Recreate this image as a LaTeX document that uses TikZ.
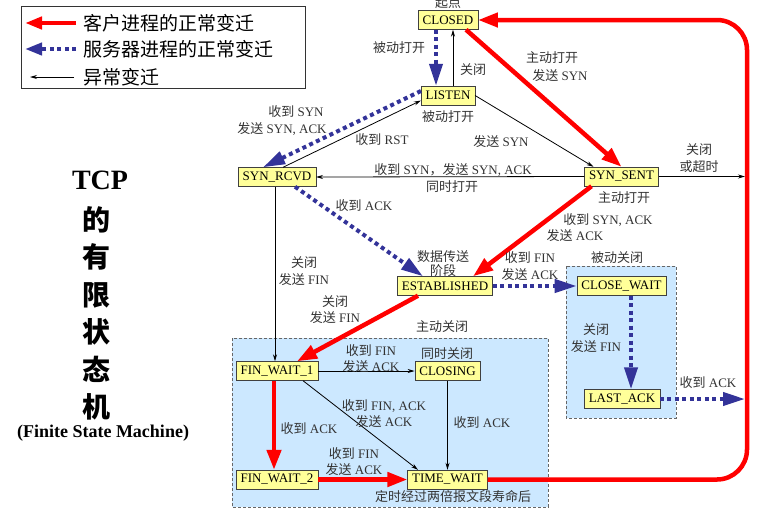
\documentclass[tikz,border=0pt]{standalone}
\usepackage{fontspec}
\setmainfont{Liberation Serif}
\newfontfamily\cjk{Noto Sans CJK SC}
\newcommand{\cn}[1]{{\cjk #1}}
\usetikzlibrary{arrows.meta}
\definecolor{srvblue}{RGB}{51,51,153}
\definecolor{statefill}{RGB}{255,255,153}
\definecolor{zonefill}{RGB}{204,232,255}
\tikzset{
  state/.style={draw=black!75, fill=statefill, font=\fontsize{13}{15}\selectfont, inner xsep=4.5pt, inner ysep=0pt, minimum height=19pt},
  lbl/.style={font=\fontsize{13}{16.5}\selectfont, text=black!80, align=center, inner sep=0pt},
  legend/.style={font=\cjk\fontsize{19}{21}\selectfont, anchor=west, inner sep=0pt},
  cli/.style={red, line width=4.5pt, -{Triangle[length=20pt,width=14pt]}},
  srv/.style={srvblue, line width=4pt, dash pattern=on 4pt off 3.5pt, -{Triangle[length=22pt,width=13pt]}},
  abn/.style={black, line width=0.8pt, -{Stealth[length=7pt,width=4pt]}},
  zone/.style={fill=zonefill, draw=black!60, dash pattern=on 3pt off 2pt, line width=0.7pt}
}

\begin{document}
\begin{tikzpicture}[x=1pt, y=-1pt]
    \useasboundingbox (0,0) rectangle (767,512);
    % legend
    \draw[black!80, line width=0.8pt] (21,6) rectangle (305,88);
    \node[legend] (lgcli) at (83,23) {客户进程的正常变迁};
    \node[legend] (lgsrv) at (83,49) {服务器进程的正常变迁};
    \node[legend] (lgabn) at (83,77) {异常变迁};
    \draw[cli, -{Triangle[length=17pt,width=12pt]}] ([xshift=-7pt]lgcli.west) -- ++(-51,0);
    \draw[srv, -{Triangle[length=17pt,width=12pt]}] ([xshift=-7pt]lgsrv.west) -- ++(-51,0);
    \draw[abn] ([xshift=-9pt]lgabn.west) -- ++(-44,0);

    % title
    \node[font=\bfseries\fontsize{28}{30}\selectfont] (tcp) at (100,180) {TCP};
    \node[font=\cjk\bfseries\fontsize{28}{37.5}\selectfont, align=center] (fsmzh) at (96,313.5) {的\\有\\限\\状\\态\\机};
    \node[font=\bfseries\fontsize{18}{20}\selectfont] (fsmen) at (103,433) {(Finite State Machine)};

    % closing zones
    \draw[zone] (232,338) rectangle (548,507);
    \draw[zone] (566,266) rectangle (676,418);

    % states
    \node[state] (closed) at (448,20) {CLOSED};
    \node[state] (listen) at (448,95.5) {LISTEN};
    \node[state] (synsent) at (621.5,176.5) {SYN\_SENT};
    \node[state] (synrcvd) at (277,177) {SYN\_RCVD};
    \node[state] (estab) at (445,286) {ESTABLISHED};
    \node[state] (closewait) at (621.5,286) {CLOSE\_WAIT};
    \node[state] (lastack) at (622,399) {LAST\_ACK};
    \node[state] (finwait1) at (277,371) {FIN\_WAIT\_1};
    \node[state] (closing) at (447.5,371) {CLOSING};
    \node[state] (finwait2) at (277,479.5) {FIN\_WAIT\_2};
    \node[state] (timewait) at (447.5,479.5) {TIME\_WAIT};
    \coordinate (timeout) at (745,176.5);
    \coordinate (ackdone) at (745,399);
    \coordinate (cbot) at (747,479.5);
    \coordinate (ctop) at (747,20);

    % transitions
    \draw[srv] ([xshift=-12pt]closed.south) -- ([xshift=-12pt]listen.north);
    \draw[abn] ([xshift=5pt]listen.north) -- ([xshift=5pt]closed.south);
    \draw[cli] ([xshift=18pt]closed.south) -- (synsent.north);
    \draw[abn] (listen.east) -- ([xshift=-28pt]synsent.north);
    \draw[srv] ([yshift=4.5pt]listen.west) -- ([xshift=-14pt]synrcvd.north);
    \draw[abn] ([xshift=6pt]synrcvd.north) -- ([yshift=-5pt]listen.west);
    \draw[abn] (synsent.west) -- (synrcvd.east);
    \draw[abn] (synsent.east) -- (timeout);
    \draw[cli] ([xshift=-30pt]synsent.south) -- ([xshift=28pt]estab.north);
    \draw[srv] ([xshift=18pt]synrcvd.south) -- ([xshift=-22pt]estab.north);
    \draw[abn] ([xshift=-2pt]synrcvd.south) -- ([xshift=-2pt]finwait1.north);
    \draw[cli] ([xshift=-27pt]estab.south) -- ([xshift=20pt]finwait1.north);
    \draw[srv] (estab.east) -- (closewait.west);
    \draw[srv] ([xshift=9.5pt]closewait.south) -- ([xshift=9pt]lastack.north);
    \draw[srv] (lastack.east) -- (ackdone);
    \draw[abn] (finwait1.east) -- (closing.west);
    \draw[abn] ([xshift=26pt]finwait1.south) -- ([xshift=-29.5pt]timewait.north);
    \draw[abn] (closing.south) -- (timewait.north);
    \draw[cli] ([xshift=-3pt]finwait1.south) -- ([xshift=-3pt]finwait2.north);
    \draw[cli] (finwait2.east) -- (timewait.west);
    \draw[cli, rounded corners=30pt] (timewait.east) -- (cbot) -- (ctop) -- (closed.east);

    % labels
    \node[lbl] (lbstart) at (448,2.5) {\cn{起点}};
    \node[lbl] (lbpassive) at (399,48) {\cn{被动打开}};
    \node[lbl] (lbclose) at (473,70) {\cn{关闭}};
    \node[lbl] (lbactive) at (552,58) {\cn{主动打开}};
    \node[lbl] (lbsendsyn) at (560,76) {\cn{发送} SYN};
    \node[lbl] (lblisten) at (448,117) {\cn{被动打开}};
    \node[lbl] (lbrcvsyn) at (296,112) {\cn{收到} SYN};
    \node[lbl] (lbsynack) at (282,129) {\cn{发送} SYN, ACK};
    \node[lbl] (lbrst) at (382,140) {\cn{收到} RST};
    \node[lbl] (lbsyn) at (501,142) {\cn{发送} SYN};
    \node[lbl] (lbsimul) at (453,170) {\cn{收到} SYN\cn{，发送} SYN, ACK};
    \node[lbl] (lbsimopen) at (452,187) {\cn{同时打开}};
    \node[lbl] (lbtimeout) at (699,158) {\cn{关闭}\\\cn{或超时}};
    \node[lbl] (lbsynsent) at (624,198) {\cn{主动打开}};
    \node[lbl] (lbgotsa) at (608,220) {\cn{收到} SYN, ACK};
    \node[lbl] (lbsendack) at (575,236) {\cn{发送} ACK};
    \node[lbl] (lbgotack) at (364,206) {\cn{收到} ACK};
    \node[lbl, font=\fontsize{13}{14}\selectfont] (lbdata) at (443,264) {\cn{数据传送}\\\cn{阶段}};
    \node[lbl] (lbrcvdfin) at (304,271) {\cn{关闭}\\\cn{发送} FIN};
    \node[lbl] (lbestfin) at (335,309.5) {\cn{关闭}\\\cn{发送} FIN};
    \node[lbl] (lbpeerfin) at (530,266) {\cn{收到} FIN\\\cn{发送} ACK};
    \node[lbl] (lbpclose) at (617,258) {\cn{被动关闭}};
    \node[lbl] (lbaclose) at (442,327) {\cn{主动关闭}};
    \node[lbl] (lbcwfin) at (596,338) {\cn{关闭}\\\cn{发送} FIN};
    \node[lbl] (lblastack) at (708,383) {\cn{收到} ACK};
    \node[lbl] (lbfw1fin) at (371,358.5) {\cn{收到} FIN\\\cn{发送} ACK};
    \node[lbl] (lbsimclose) at (447,354) {\cn{同时关闭}};
    \node[lbl] (lbfinack) at (384,413.5) {\cn{收到} FIN, ACK\\\cn{发送} ACK};
    \node[lbl] (lbclosing) at (482,423) {\cn{收到} ACK};
    \node[lbl] (lbfw1ack) at (309,429) {\cn{收到} ACK};
    \node[lbl] (lbfw2fin) at (354,461.5) {\cn{收到} FIN\\\cn{发送} ACK};
    \node[lbl] (lbmsl) at (453,496) {\cn{定时经过两倍报文段寿命后}};
\end{tikzpicture}
\end{document}
